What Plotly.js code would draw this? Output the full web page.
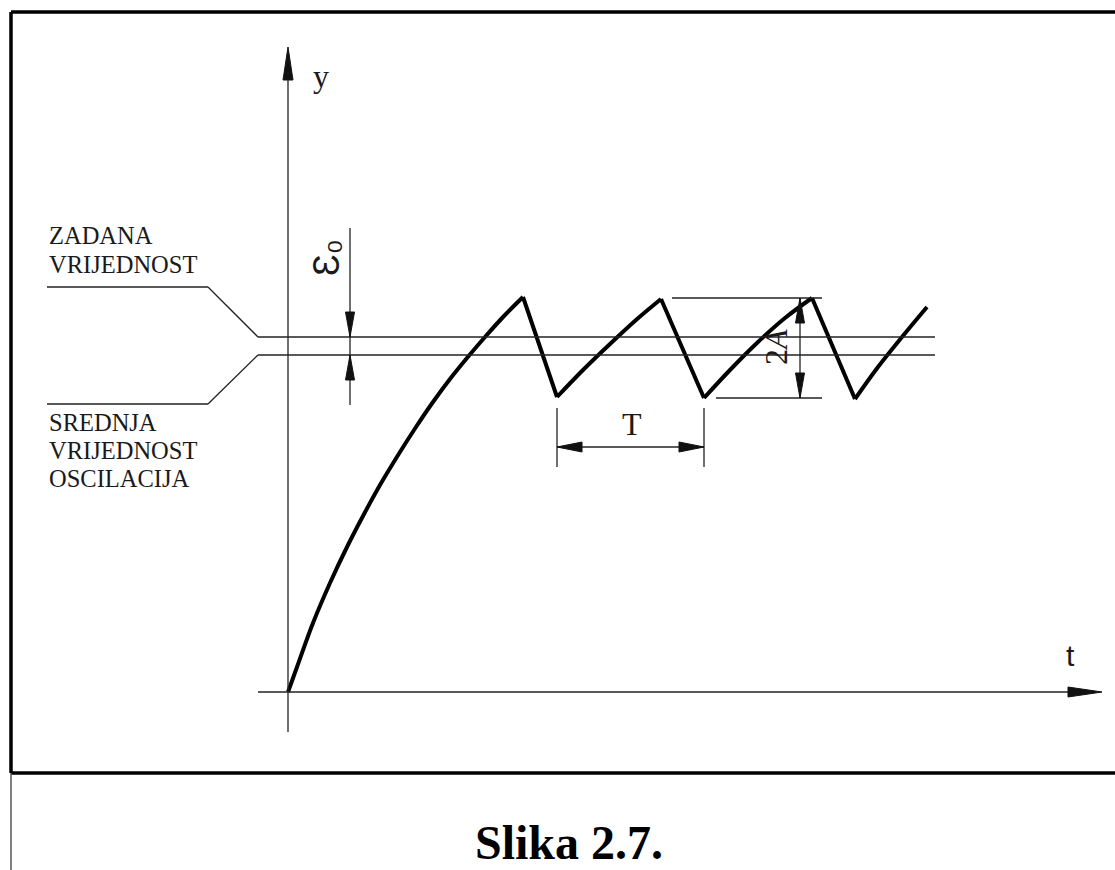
<!DOCTYPE html>
<html>
<head>
<meta charset="utf-8">
<script src="https://cdn.plot.ly/plotly-3.0.1.min.js"></script>
<style>html,body{margin:0;padding:0;background:#fff;}#chart{width:1115px;height:870px;}</style>
</head>
<body>
<div id="chart"></div>
<script>
// Response curve y(t), split into rising arcs and falling edges
const rise1T = [0, 9, 25, 42, 59, 75, 92, 112, 128, 145, 162, 179, 197, 216, 235];
const rise1Y = [0, 25, 69, 109, 145, 176, 207, 240, 265, 290, 313, 334, 355, 376, 395];
const fall1T = [235, 269];
const fall1Y = [395, 295];
const rise2T = [269, 295, 322, 348, 373];
const rise2Y = [295, 322, 348, 372, 393];
const fall2T = [373, 416];
const fall2Y = [393, 294];
const rise3T = [416, 442, 470, 497, 524];
const rise3Y = [294, 322, 350, 374, 394];
const fall3T = [524, 567];
const fall3Y = [394, 293];
const rise4T = [567, 590, 614, 639];
const rise4Y = [293, 325, 355, 385];

// Reference levels
const setpointLevel = 355;   // ZADANA VRIJEDNOST
const meanLevel = 337;       // SREDNJA VRIJEDNOST OSCILACIJA
const refStartT = -30, refEndT = 647;

// Dimension features
const periodStart = 269, periodEnd = 416;   // T (trough to trough)
const ampTop = 394, ampBottom = 294;        // 2A
const ampDimT = 512;
const epsDimT = 62;

const leftLabelsTop = ["ZADANA", "VRIJEDNOST"];
const leftLabelsBottom = ["SREDNJA", "VRIJEDNOST", "OSCILACIJA"];
const caption = "Slika 2.7.";

const ink = "#1a1a1a";
const thin = {color: "#222", width: 1.3};

function seg(x0, y0, x1, y1, line) {
  return {type: "line", xref: "x", yref: "y", x0, y0, x1, y1, line: line || thin, layer: "above"};
}
function arrowHead(tx, ty, dir, len, hw) {
  let p;
  if (dir === "up") p = `M ${tx} ${ty} L ${tx - hw} ${ty - len} L ${tx + hw} ${ty - len} Z`;
  if (dir === "down") p = `M ${tx} ${ty} L ${tx - hw} ${ty + len} L ${tx + hw} ${ty + len} Z`;
  if (dir === "right") p = `M ${tx} ${ty} L ${tx - len} ${ty - hw} L ${tx - len} ${ty + hw} Z`;
  if (dir === "left") p = `M ${tx} ${ty} L ${tx + len} ${ty - hw} L ${tx + len} ${ty + hw} Z`;
  return {type: "path", xref: "x", yref: "y", path: p, fillcolor: "#111", line: {color: "#111", width: 1}, layer: "above"};
}

const shapes = [
  // frame
  seg(-277, 680, 840, 680, {color: "#000", width: 3.5}),
  seg(-277, 680, -277, -81, {color: "#000", width: 3.5}),
  seg(-277, -81, 840, -81, {color: "#000", width: 3.5}),
  seg(-277, -81, -277, -190, {color: "#555", width: 1.5}),
  // axes
  seg(0, -40, 0, 620),
  arrowHead(0, 645, "up", 33, 5),
  seg(-30, 0, 785, 0),
  arrowHead(814, 0, "right", 34, 5),
  // reference lines
  seg(refStartT, setpointLevel, refEndT, setpointLevel),
  seg(refStartT, meanLevel, refEndT, meanLevel),
  // leader lines
  seg(-241, 405, -80, 405), seg(-80, 405, refStartT, setpointLevel),
  seg(-241, 288, -80, 288), seg(-80, 288, refStartT, meanLevel),
  // epsilon dimension
  seg(epsDimT, 464, epsDimT, 287),
  arrowHead(epsDimT, setpointLevel, "down", 25, 4.5),
  arrowHead(epsDimT, meanLevel, "up", 25, 4.5),
  // period dimension
  seg(periodStart, 284, periodStart, 225),
  seg(periodEnd, 284, periodEnd, 225),
  seg(periodStart, 245, periodEnd, 245),
  arrowHead(periodStart, 245, "left", 25, 5),
  arrowHead(periodEnd, 245, "right", 25, 5),
  // amplitude dimension
  seg(384, ampTop, 534, ampTop),
  seg(428, ampBottom, 534, ampBottom),
  seg(ampDimT, ampTop, ampDimT, ampBottom),
  arrowHead(ampDimT, ampTop, "up", 25, 4.5),
  arrowHead(ampDimT, ampBottom, "down", 25, 4.5)
];

const serif = "Liberation Serif, Times New Roman, serif";
const sans = "Liberation Sans, Arial, sans-serif";
function label(text, x, y, font, opts) {
  return Object.assign({text, x, y, xref: "x", yref: "y", showarrow: false,
    xanchor: "center", yanchor: "middle",
    font: Object.assign({family: serif, color: ink}, font)}, opts || {});
}

const annotations = [];
const topY = [457, 428];
leftLabelsTop.forEach((t, i) => annotations.push(label(t, -241, topY[i], {size: 24.5}, {xanchor: "left"})));
const botY = [270, 242, 214];
leftLabelsBottom.forEach((t, i) => annotations.push(label(t, -241, botY[i], {size: 24.5}, {xanchor: "left"})));
annotations.push(label("y", 33, 616, {size: 32}));
annotations.push(label("t", 782, 37, {size: 30, family: sans}));
annotations.push(label("T", 344, 268, {size: 32}));
annotations.push(label("2<i>A</i>", 488, 345, {size: 32}, {textangle: -90}));
annotations.push(label("Ɛ₀", 38, 434, {size: 36, family: sans}, {textangle: -90}));
annotations.push(label(caption, 281, -150, {size: 48, weight: "bold", color: "#000"}));

function segTrace(x, y, shape) {
  return {x, y, type: "scatter", mode: "lines",
    line: {color: "#000", width: 4, shape: shape, smoothing: 1},
    hoverinfo: "skip", showlegend: false};
}
const traces = [
  segTrace(rise1T, rise1Y, "spline"), segTrace(fall1T, fall1Y, "linear"),
  segTrace(rise2T, rise2Y, "spline"), segTrace(fall2T, fall2Y, "linear"),
  segTrace(rise3T, rise3Y, "spline"), segTrace(fall3T, fall3Y, "linear"),
  segTrace(rise4T, rise4Y, "spline")
];

const layout = {
  width: 1115, height: 870,
  margin: {l: 0, r: 0, t: 0, b: 0},
  paper_bgcolor: "#fff", plot_bgcolor: "#fff",
  xaxis: {range: [-288, 827], visible: false, fixedrange: true},
  yaxis: {range: [-178, 692], visible: false, fixedrange: true},
  shapes, annotations, showlegend: false
};

Plotly.newPlot("chart", traces, layout, {displayModeBar: false, staticPlot: true});
</script>
</body>
</html>
